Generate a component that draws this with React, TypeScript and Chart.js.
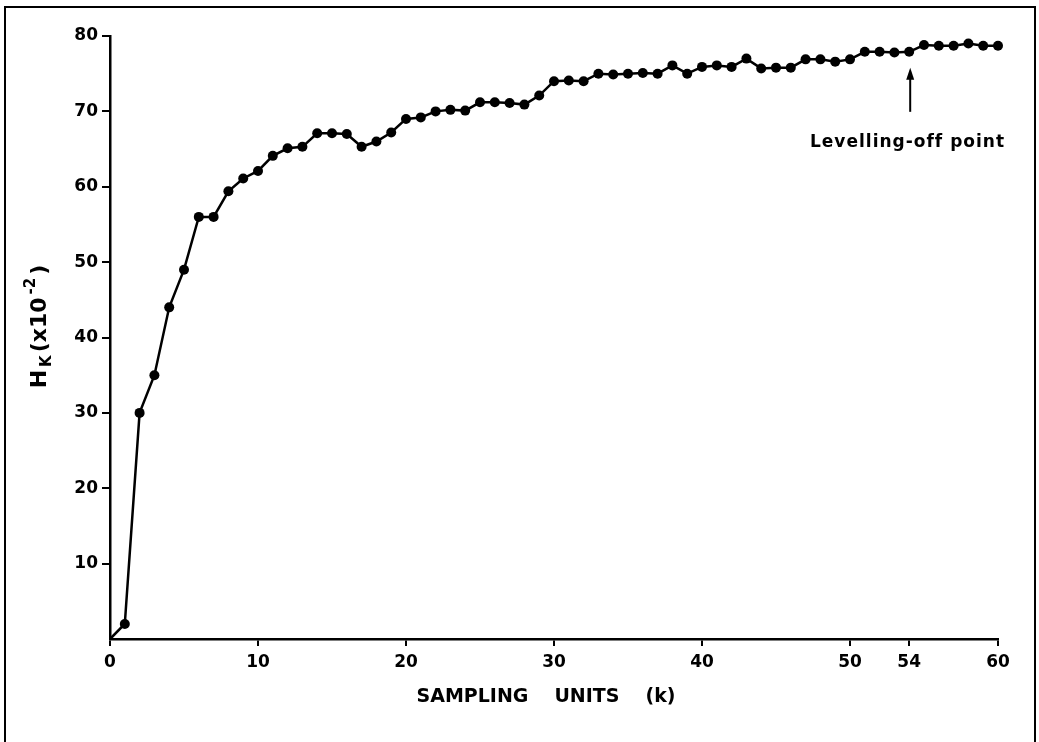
import { useEffect, useRef } from "react";
import { Chart, registerables } from "chart.js";

Chart.register(...registerables);

// ---- Data ----
const kValues = [
  0, 1, 2, 3, 4, 5, 6, 7, 8, 9, 10, 11, 12, 13, 14, 15, 16, 17, 18, 19, 20,
  21, 22, 23, 24, 25, 26, 27, 28, 29, 30, 31, 32, 33, 34, 35, 36, 37, 38, 39, 40,
  41, 42, 43, 44, 45, 46, 47, 48, 49, 50, 51, 52, 53, 54, 55, 56, 57, 58, 59, 60,
];
const hkValues = [
  0, 2, 30, 35, 44, 49, 56, 56, 59.4, 61.1, 62.1, 64.1, 65.1, 65.3, 67.1, 67.1,
  67, 65.3, 66, 67.2, 69, 69.2, 70, 70.2, 70.1, 71.2, 71.2, 71.1, 70.9, 72.1,
  74, 74.1, 74, 75, 74.9, 75, 75.1, 75, 76.1, 75, 75.9, 76.1, 75.9, 77, 75.7,
  75.8, 75.8, 76.9, 76.9, 76.6, 76.9, 77.9, 77.9, 77.8, 77.9, 78.8, 78.7, 78.7,
  79, 78.7, 78.7,
];
const xTickValues = [0, 10, 20, 30, 40, 50, 54, 60];
const yTickValues = [10, 20, 30, 40, 50, 60, 70, 80];
const xTitleWords = ["SAMPLING", "UNITS", "(k)"];
const yTitleParts: [string, "n" | "sub" | "sup"][] = [
  ["H", "n"],
  ["K", "sub"],
  ["(x10", "n"],
  ["-2", "sup"],
  [")", "n"],
];
const annotationText = "Levelling-off point";
const levelOffK = 54;

const FONT = "'DejaVu Sans', 'Liberation Sans', sans-serif";

const decorPlugin = {
  id: "decor",
  beforeDraw(chart: any) {
    const { ctx, width, height } = chart;
    ctx.save();
    ctx.fillStyle = "#ffffff";
    ctx.fillRect(0, 0, width, height);
    ctx.strokeStyle = "#000";
    ctx.lineWidth = 2;
    ctx.beginPath();
    ctx.moveTo(5, height);
    ctx.lineTo(5, 7);
    ctx.lineTo(1035, 7);
    ctx.lineTo(1035, height);
    ctx.stroke();
    ctx.restore();
  },
  afterDraw(chart: any) {
    const { ctx } = chart;
    const xs = chart.scales.x;
    const ys = chart.scales.y;
    ctx.save();
    ctx.fillStyle = "#000";
    ctx.strokeStyle = "#000";

    // X axis title, words spread apart
    ctx.font = `bold 19px ${FONT}`;
    ctx.textBaseline = "middle";
    ctx.textAlign = "left";
    const gap = 26;
    const widths = xTitleWords.map((w) => ctx.measureText(w).width);
    const total = widths.reduce((a, b) => a + b, 0) + gap * (xTitleWords.length - 1);
    let cx = 546 - total / 2;
    xTitleWords.forEach((w, i) => {
      ctx.fillText(w, cx, 697);
      cx += widths[i] + gap;
    });

    // Y axis title, rotated, with subscript / superscript
    ctx.translate(38, 325);
    ctx.rotate(-Math.PI / 2);
    const partFont = (kind: string) =>
      kind === "n" ? `bold 22px ${FONT}` : `bold 15px ${FONT}`;
    const spacing = 3;
    let tw = 0;
    yTitleParts.forEach(([t, k]) => {
      ctx.font = partFont(k);
      tw += ctx.measureText(t).width + spacing;
    });
    let px = -tw / 2;
    ctx.textAlign = "left";
    ctx.textBaseline = "alphabetic";
    yTitleParts.forEach(([t, k]) => {
      ctx.font = partFont(k);
      const dy = k === "sub" ? 13 : k === "sup" ? -3 : 8;
      ctx.fillText(t, px, dy);
      px += ctx.measureText(t).width + spacing;
    });
    ctx.setTransform(1, 0, 0, 1, 0, 0);

    // Arrow to the levelling-off point
    const ax = xs.getPixelForValue(levelOffK) + 1;
    const yPt = ys.getPixelForValue(hkValues[kValues.indexOf(levelOffK)]);
    const tipY = yPt + 16;
    ctx.lineWidth = 2;
    ctx.beginPath();
    ctx.moveTo(ax, tipY + 44);
    ctx.lineTo(ax, tipY + 4);
    ctx.stroke();
    ctx.beginPath();
    ctx.moveTo(ax, tipY);
    ctx.lineTo(ax - 4, tipY + 12);
    ctx.lineTo(ax + 4, tipY + 12);
    ctx.closePath();
    ctx.fill();

    ctx.font = `bold 17px ${FONT}`;
    (ctx as any).letterSpacing = "1px";
    ctx.textAlign = "left";
    ctx.textBaseline = "middle";
    ctx.fillText(annotationText, 810, 143);
    ctx.restore();
  },
};

export default function App() {
  const canvasRef = useRef<HTMLCanvasElement | null>(null);

  useEffect(() => {
    const canvas = canvasRef.current;
    if (!canvas) return;
    const chart = new Chart(canvas, {
      type: "line",
      data: {
        datasets: [
          {
            data: kValues.map((k, i) => ({ x: k, y: hkValues[i] })),
            borderColor: "#000",
            backgroundColor: "#000",
            borderWidth: 2.5,
            tension: 0,
            pointRadius: (c: any) => (c.dataIndex === 0 ? 0 : 5),
            pointBackgroundColor: "#000",
            pointBorderWidth: 0,
            clip: false as any,
          },
        ],
      },
      options: {
        responsive: false,
        animation: false,
        events: [],
        layout: { padding: { top: 36, right: 41, left: 0, bottom: 0 } },
        plugins: {
          legend: { display: false },
          tooltip: { enabled: false },
        },
        scales: {
          x: {
            type: "linear",
            min: 0,
            max: 60,
            afterBuildTicks: (s: any) => {
              s.ticks = xTickValues.map((v) => ({ value: v }));
            },
            afterFit: (s: any) => {
              s.height = 103;
            },
            border: { display: true, color: "#000", width: 2.5 },
            grid: {
              drawOnChartArea: false,
              drawTicks: true,
              tickLength: 7,
              color: "#000",
              lineWidth: 2,
            },
            ticks: {
              color: "#000",
              font: { family: FONT, size: 17, weight: "bold" },
              padding: 6,
              maxRotation: 0,
              autoSkip: false,
              callback: (v: any) => String(v),
            },
          },
          y: {
            type: "linear",
            min: 0,
            max: 80,
            afterBuildTicks: (s: any) => {
              s.ticks = yTickValues.map((v) => ({ value: v }));
            },
            afterFit: (s: any) => {
              s.width = 110;
            },
            border: { display: true, color: "#000", width: 2.5 },
            grid: {
              drawOnChartArea: false,
              drawTicks: true,
              tickLength: 8,
              color: "#000",
              lineWidth: 2,
            },
            ticks: {
              color: "#000",
              font: { family: FONT, size: 17, weight: "bold" },
              padding: 4,
              autoSkip: false,
              callback: (v: any) => String(v),
            },
          },
        },
      },
      plugins: [decorPlugin],
    });
    return () => chart.destroy();
  }, []);

  return (
    <div style={{ position: "fixed", left: 0, top: 0, width: 1039, height: 742, background: "#fff" }}>
      <canvas ref={canvasRef} width={1039} height={742} style={{ display: "block" }} />
    </div>
  );
}
